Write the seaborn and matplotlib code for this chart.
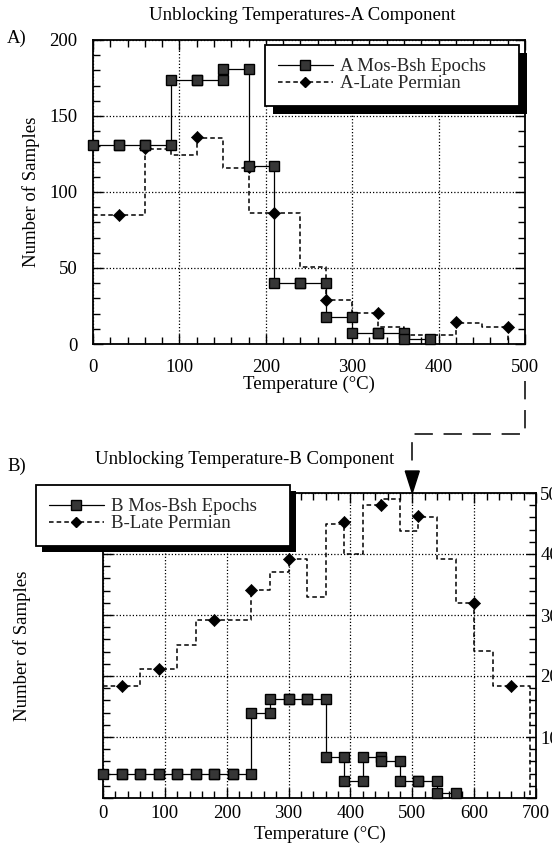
import seaborn as sns
import matplotlib.pyplot as plt
from matplotlib.lines import Line2D
from matplotlib.patches import Rectangle, Polygon
from matplotlib.transforms import IdentityTransform
from matplotlib.ticker import MultipleLocator, FuncFormatter

# ---- A component (30 degC demag steps) ----
a_mos_edges = [0, 30, 60, 90, 120, 150, 180, 210, 240, 270, 300, 330, 360, 390]
a_mos_vals = [131, 131, 131, 174, 174, 181, 117, 40, 40, 18, 7, 7, 3]

a_perm_edges = [0, 60, 90, 120, 150, 180, 240, 270, 300, 330, 360, 420, 450, 480]
a_perm_vals = [85, 128, 124.5, 135.5, 115.5, 86, 50.5, 29, 20.3, 11.5, 6, 14, 11]
a_perm_pts_t = [30, 60, 120, 180, 210, 270, 330, 420, 480]
a_perm_pts_n = [85, 129, 136, 116.5, 86, 29.2, 20.6, 14.5, 11.5]

# ---- B component ----
b_mos_edges = list(range(0, 600, 30))
b_mos_vals = [4, 4, 4, 4, 4, 4, 4, 4, 14, 16.2, 16.2, 16.2, 6.8, 2.8, 6.8, 6.1, 2.8, 2.8, 0.8]

b_perm_edges = [0, 60, 120, 150, 240, 270, 300, 330, 360, 390, 420, 450, 480, 510,
                540, 570, 600, 630, 690]
b_perm_vals = [18.3, 21.1, 25.1, 29.1, 34.1, 37.0, 39.2, 32.9, 45.0, 40.0, 48.1, 49.0,
               43.8, 46.0, 39.1, 31.9, 24.1, 18.3]
b_perm_pts_t = [30, 90, 180, 240, 300, 390, 450, 510, 600, 660]
b_perm_pts_n = [18.3, 21.2, 29.1, 34.1, 39.2, 45.2, 48.1, 46.2, 31.9, 18.3]

W, H = 552, 850
SQ_FACE = '#363636'
DASH = (0, (3, 2))
FS = 13.5


def step_vertices(edges, vals, drop=False):
    xs, ys = [], []
    for i, v in enumerate(vals):
        xs += [edges[i], edges[i + 1]]
        ys += [v, v]
    if drop:
        xs.append(edges[-1])
        ys.append(0)
    return xs, ys


def style_axes(ax, xmax, ymax, xmin_step, ymaj, ymin):
    ax.set_xlim(0, xmax)
    ax.set_ylim(0, ymax)
    ax.xaxis.set_major_locator(MultipleLocator(100))
    ax.xaxis.set_minor_locator(MultipleLocator(xmin_step))
    ax.yaxis.set_major_locator(MultipleLocator(ymaj))
    ax.yaxis.set_minor_locator(MultipleLocator(ymin))
    ax.tick_params(which='both', direction='in', top=True, right=True,
                   color='black', width=1.0, labelsize=FS, labelcolor='black')
    ax.tick_params(which='major', length=7)
    ax.tick_params(which='minor', length=5)
    ax.grid(which='major', color='black', ls=(0, (1, 1.6)), lw=0.9)
    for s in ax.spines.values():
        s.set_color('black')
        s.set_linewidth(1.3)


def draw_series(ax, mos_e, mos_v, perm_e, perm_v, pt_t, pt_n):
    mx, my = step_vertices(mos_e, mos_v)
    px, py = step_vertices(perm_e, perm_v, drop=True)
    sns.lineplot(x=px, y=py, ax=ax, estimator=None, sort=False, color='black',
                 lw=1.1, linestyle=DASH, zorder=3)
    sns.scatterplot(x=pt_t, y=pt_n, ax=ax, marker='D', s=38, color='black',
                    edgecolor='black', linewidth=0.5, zorder=4, clip_on=False)
    sns.lineplot(x=mx, y=my, ax=ax, estimator=None, sort=False, color='black',
                 lw=0.9, marker='s', markersize=7, markerfacecolor=SQ_FACE,
                 markeredgecolor='black', markeredgewidth=1.0, zorder=5,
                 clip_on=False)


def add_legend(ax, fig, labels, x0, y0, x1):
    handles = [
        Line2D([], [], color='black', lw=0.9, marker='s', markersize=7,
               markerfacecolor=SQ_FACE, markeredgecolor='black'),
        Line2D([], [], color='black', lw=1.1, linestyle=DASH, marker='D',
               markersize=5.6),
    ]
    leg = ax.legend(handles, labels, loc='upper left',
                    bbox_to_anchor=(x0 / W, 1 - y0 / H, (x1 - x0) / W, 0),
                    bbox_transform=fig.transFigure, mode='expand',
                    borderaxespad=0, fontsize=FS, handlelength=2.9,
                    handletextpad=0.4, borderpad=0.7, labelspacing=0.0,
                    frameon=True, fancybox=False, framealpha=1,
                    edgecolor='black', facecolor='white')
    leg.get_frame().set_linewidth(1.3)
    leg.set_zorder(10)
    return leg


sns.set_theme(style='ticks')
plt.rcParams['font.family'] = ['Liberation Serif', 'DejaVu Serif']

fig = plt.figure(figsize=(W / 100, H / 100), dpi=100)
ax1 = fig.add_axes([93 / W, 1 - 344 / H, 432 / W, 304 / H])
ax2 = fig.add_axes([103 / W, 1 - 798 / H, 433 / W, 305 / H])

# top panel
draw_series(ax1, a_mos_edges, a_mos_vals, a_perm_edges, a_perm_vals,
            a_perm_pts_t, a_perm_pts_n)
style_axes(ax1, 500, 200, 20, 50, 10)
ax1.tick_params(which='major', pad=11)
ax1.set_xlabel('Temperature (°C)', fontsize=FS, color='black')
ax1.xaxis.set_label_coords(0.5, -(384 - 344) / 304)
ax1.xaxis.label.set_va('center')
ax1.set_ylabel('Number of Samples', fontsize=FS, color='black')
ax1.yaxis.set_label_coords(-(93 - 31) / 432, 0.5)
ax1.yaxis.label.set_va('center')
leg1 = add_legend(ax1, fig, ['A Mos-Bsh Epochs', 'A-Late Permian'], 265, 45, 519)

# bottom panel (counts printed on the right edge of the page)
draw_series(ax2, b_mos_edges, b_mos_vals, b_perm_edges, b_perm_vals,
            b_perm_pts_t, b_perm_pts_n)
style_axes(ax2, 700, 50, 20, 10, 2)
ax2.tick_params(which='major', axis='x', pad=5)
ax2.tick_params(which='major', axis='y', pad=3, labelleft=False, labelright=True)
ax2.yaxis.set_major_formatter(FuncFormatter(lambda v, p: '' if v == 0 else f'{v:g}'))
ax2.set_xlabel('Temperature (°C)', fontsize=FS, color='black')
ax2.xaxis.set_label_coords(0.5, -(834 - 798) / 305)
ax2.xaxis.label.set_va('center')
ax2.set_ylabel('Number of Samples', fontsize=FS, color='black')
ax2.yaxis.set_label_coords(-(103 - 31) / 433, 0.5)
ax2.yaxis.label.set_va('center')
ax2.yaxis.set_label_position('left')
leg2 = add_legend(ax2, fig, ['B Mos-Bsh Epochs', 'B-Late Permian'], 36, 485, 290)

# titles and panel letters
fig.text(302 / W, 1 - 16 / H, 'Unblocking Temperatures-A Component', fontsize=FS,
         ha='center', va='center', color='black')
fig.text(245 / W, 1 - 459 / H, 'Unblocking Temperature-B Component', fontsize=FS,
         ha='center', va='center', color='black')
fig.text(7 / W, 1 - 38 / H, 'A)', fontsize=FS, ha='left', va='center', color='black')
fig.text(7 / W, 1 - 466 / H, 'B)', fontsize=FS, ha='left', va='center', color='black')

fig.canvas.draw()

# drop shadows behind the legends
for ax, leg, off in [(ax1, leg1, 8), (ax2, leg2, 6)]:
    bb = leg.get_window_extent()
    ax.add_patch(Rectangle((bb.x0 + off, bb.y0 - off), bb.width, bb.height,
                           transform=IdentityTransform(), facecolor='black',
                           edgecolor='none', zorder=9, clip_on=False))

# dashed connector from A at 500 degC to B at 500 degC
top = ax1.transData.transform((500, 0))
bot = ax2.transData.transform((500, 50))
ys = top[1] - 37
yc = top[1] - 90
head = 22
fig.add_artist(Line2D([top[0], top[0], bot[0], bot[0]], [ys, yc, yc, bot[1] + head],
                      transform=IdentityTransform(), color='black', lw=1.1,
                      linestyle=(0, (12, 7))))
fig.add_artist(Polygon([[bot[0], bot[1]], [bot[0] - 7, bot[1] + head],
                        [bot[0] + 7, bot[1] + head]], closed=True,
                       transform=IdentityTransform(), facecolor='black',
                       edgecolor='black'))

fig.savefig('out.png', dpi=100)
